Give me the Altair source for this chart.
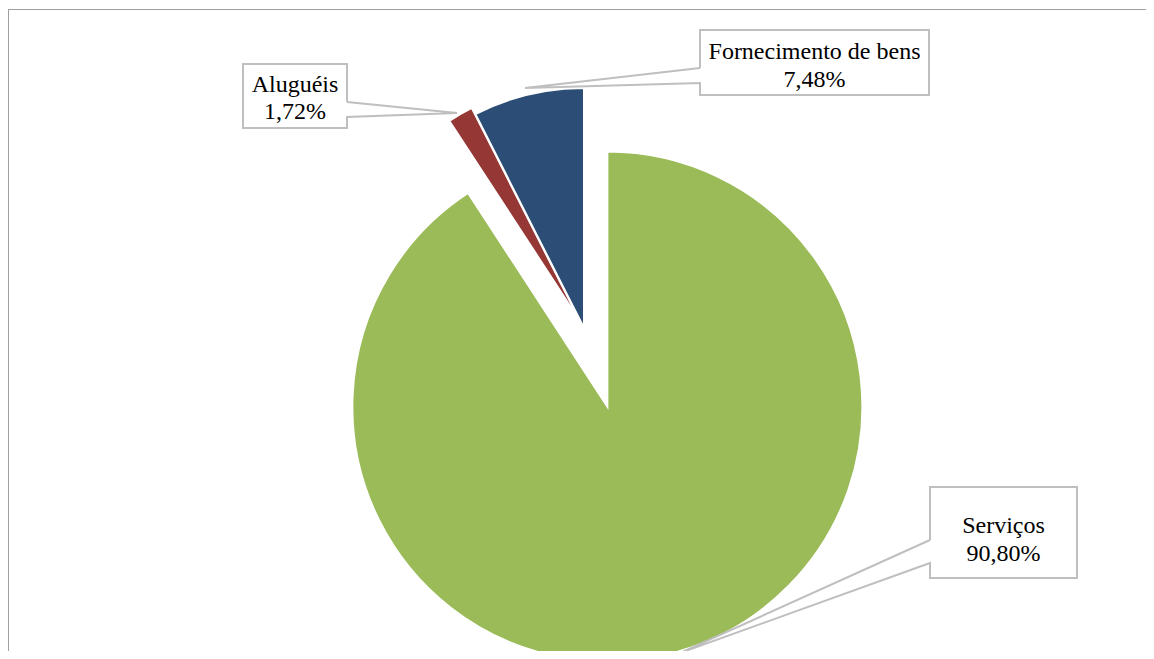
import altair as alt
import pandas as pd

# ---- data ----
categories = ["Serviços", "Aluguéis", "Fornecimento de bens"]
values = [90.80, 1.72, 7.48]

# ---- styles / layout (not data) ----
colors = ["#9BBB59", "#953735", "#2C4D75"]
explode_px = [82, 7, 0]          # slice explosion distance
radius_px = [255, 240, 240]       # slice radius
OFF = 8                            # page margin
CX, CY = 584 - OFF, 328 - OFF      # pie base centre in chart pixels
FONT = "Liberation Serif"
FS = 24
LINE = "#BFBFBF"

# callout boxes (page pixels): box, side of pointer, notch ys, tip, text baselines
callouts = {
    "Serviços": dict(box=(930, 487, 1077, 578), side="left", notch=(540, 563),
                     tip=(680, 653), base=(533, 561)),
    "Aluguéis": dict(box=(243, 64, 347, 128), side="right", notch=(102, 117),
                     tip=(457, 113), base=(92, 119)),
    "Fornecimento de bens": dict(box=(700, 30, 929, 95), side="left", notch=(68, 83),
                                 tip=(525, 88), base=(59, 87)),
}

W, H = 1138, 643

df = pd.DataFrame({
    "category": categories,
    "value": values,
    "order": list(range(len(categories))),
    "explode": explode_px,
    "r": radius_px,
})

pie = (
    alt.Chart(df)
    .transform_window(cum="sum(value)", sort=[alt.SortField("order")], frame=[None, 0])
    .transform_joinaggregate(total="sum(value)")
    .transform_calculate(t0="(datum.cum - datum.value) / datum.total * 2 * PI")
    .transform_calculate(t1="datum.cum / datum.total * 2 * PI")
    .transform_calculate(tm="(datum.t0 + datum.t1) / 2")
    .transform_calculate(cx=f"{CX} + datum.explode * sin(datum.tm)")
    .transform_calculate(cy=f"{CY} - datum.explode * cos(datum.tm)")
    .mark_arc(stroke="white", strokeWidth=2)
    .encode(
        x=alt.X("cx:Q", scale=None),
        y=alt.Y("cy:Q", scale=None),
        theta=alt.Theta("t0:Q", scale=None),
        theta2="t1:Q",
        radius=alt.Radius("r:Q", scale=None),
        color=alt.Color("category:N",
                        scale=alt.Scale(domain=categories, range=colors),
                        legend=None),
    )
)

# callout geometry
box_rows, path_rows, text_rows = [], [], []
for cat, val in zip(categories, values):
    c = callouts[cat]
    x0, y0, x1, y1 = [v - OFF for v in c["box"]]
    n0, n1 = [v - OFF for v in c["notch"]]
    tx, ty = [v - OFF for v in c["tip"]]
    box_rows.append(dict(label=cat, x0=x0, y0=y0, x1=x1, y1=y1))
    if c["side"] == "left":
        pts = [(x0, n0), (x0, y0), (x1, y0), (x1, y1), (x0, y1), (x0, n1), (tx, ty), (x0, n0)]
    else:
        pts = [(x1, n0), (x1, y0), (x0, y0), (x0, y1), (x1, y1), (x1, n1), (tx, ty), (x1, n0)]
    for i, (px, py) in enumerate(pts):
        path_rows.append(dict(label=cat, i=i, px=px, py=py))
    pct = f"{val:.2f}".replace(".", ",") + "%"
    xm = (x0 + x1) / 2
    text_rows.append(dict(label=cat, t=cat, tx=xm, ty=c["base"][0] - OFF))
    text_rows.append(dict(label=cat, t=pct, tx=xm, ty=c["base"][1] - OFF))

boxes = alt.Chart(pd.DataFrame(box_rows)).mark_rect(fill="white", strokeWidth=0).encode(
    x=alt.X("x0:Q", scale=None), x2="x1:Q",
    y=alt.Y("y0:Q", scale=None), y2="y1:Q",
)

outlines = alt.Chart(pd.DataFrame(path_rows)).mark_line(
    color=LINE, strokeWidth=2, strokeJoin="miter"
).encode(
    x=alt.X("px:Q", scale=None),
    y=alt.Y("py:Q", scale=None),
    detail="label:N",
    order="i:Q",
)

texts = alt.Chart(pd.DataFrame(text_rows)).mark_text(
    font=FONT, fontSize=FS, color="black", align="center", baseline="alphabetic"
).encode(
    x=alt.X("tx:Q", scale=None),
    y=alt.Y("ty:Q", scale=None),
    text="t:N",
)

border = alt.Chart(pd.DataFrame({"a": [0]})).mark_rect(
    fill=None, stroke="#404040", strokeWidth=1, strokeDash=[1, 1]
).encode(
    x=alt.value(0.5), x2=alt.value(W + 20),
    y=alt.value(1.5), y2=alt.value(H + 20),
)

chart = (
    alt.layer(border, pie, boxes, outlines, texts)
    .properties(width=W, height=H, padding=0, autosize=alt.AutoSizeParams(type="none"))
    .configure_view(strokeWidth=0)
)

chart.save("out.html", embed_options={"renderer": "svg", "actions": False})
